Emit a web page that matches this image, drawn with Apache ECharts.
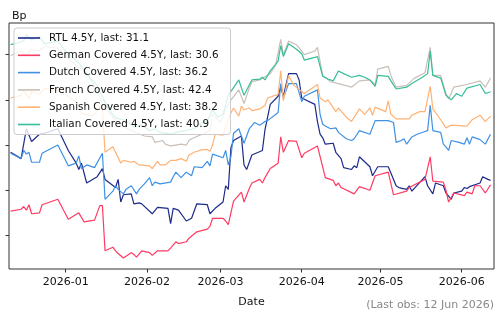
<!DOCTYPE html>
<html><head><meta charset="utf-8">
<script src="https://cdn.jsdelivr.net/npm/echarts@6/dist/echarts.min.js"></script>
<style>html,body{margin:0;padding:0;background:#fff}#c{width:495px;height:313px}</style>
</head><body><div id="c"></div>
<script>
const seriesNames = ['RTL 4.5Y, last: 31.1','German Covered 4.5Y, last: 30.6','Dutch Covered 4.5Y, last: 36.2','French Covered 4.5Y, last: 42.4','Spanish Covered 4.5Y, last: 38.2','Italian Covered 4.5Y, last: 40.9'];
const seriesColors = ['#1c2a8c','#ff3b62','#3f91e4','#c9bfb6','#ffb274','#35bd9a'];
const monthTicks = ['2026-01','2026-02','2026-03','2026-04','2026-05','2026-06'];
const yTicks = [25,30,35,40,45];

const rtl = [['2025-12-11',34.2],['2025-12-15',33.5],['2025-12-17',36.8],['2025-12-19',35.4],['2025-12-22',36.2],['2025-12-24',36.3],['2025-12-29',36.8],['2026-01-02',34.4],['2026-01-05',33.0],['2026-01-06',32.3],['2026-01-07',33.0],['2026-01-09',30.8],['2026-01-13',31.5],['2026-01-15',32.4],['2026-01-16',31.2],['2026-01-20',30.3],['2026-01-21',31.2],['2026-01-22',28.7],['2026-01-23',29.5],['2026-01-26',29.6],['2026-01-27',28.5],['2026-01-29',28.6],['2026-01-30',28.5],['2026-02-03',27.4],['2026-02-05',28.1],['2026-02-09',28.0],['2026-02-10',26.3],['2026-02-11',28.0],['2026-02-13',27.8],['2026-02-16',26.6],['2026-02-18',26.9],['2026-02-20',28.5],['2026-02-24',28.4],['2026-02-25',27.4],['2026-02-27',28.0],['2026-03-02',28.7],['2026-03-03',30.5],['2026-03-04',30.1],['2026-03-05',34.7],['2026-03-06',35.5],['2026-03-09',36.0],['2026-03-10',32.8],['2026-03-11',32.3],['2026-03-13',33.9],['2026-03-17',34.4],['2026-03-18',36.7],['2026-03-20',39.5],['2026-03-23',40.4],['2026-03-24',41.5],['2026-03-25',40.4],['2026-03-27',42.9],['2026-03-30',42.9],['2026-03-31',42.2],['2026-04-01',40.2],['2026-04-06',39.5],['2026-04-07',37.6],['2026-04-08',36.2],['2026-04-09',35.8],['2026-04-10',35.1],['2026-04-13',35.2],['2026-04-14',34.2],['2026-04-16',33.5],['2026-04-17',32.5],['2026-04-20',32.3],['2026-04-21',32.7],['2026-04-22',32.5],['2026-04-23',33.7],['2026-04-27',32.6],['2026-04-28',31.6],['2026-04-30',32.6],['2026-05-04',32.6],['2026-05-05',31.9],['2026-05-07',30.5],['2026-05-08',30.3],['2026-05-11',30.1],['2026-05-12',30.5],['2026-05-13',29.9],['2026-05-18',31.5],['2026-05-19',30.5],['2026-05-21',29.6],['2026-05-22',30.8],['2026-05-25',30.5],['2026-05-26',29.7],['2026-05-28',29.0],['2026-05-29',29.7],['2026-06-01',29.9],['2026-06-02',30.3],['2026-06-03',30.2],['2026-06-04',30.4],['2026-06-08',30.8],['2026-06-09',31.5],['2026-06-11',31.2],['2026-06-12',31.1]];

const german = [['2025-12-11',27.7],['2025-12-15',27.9],['2025-12-16',28.2],['2025-12-17',27.8],['2025-12-18',28.4],['2025-12-19',27.4],['2025-12-22',27.5],['2025-12-23',28.4],['2025-12-29',29.0],['2026-01-02',26.8],['2026-01-06',27.5],['2026-01-08',26.5],['2026-01-12',26.7],['2026-01-14',28.3],['2026-01-15',28.3],['2026-01-16',23.3],['2026-01-19',23.7],['2026-01-20',23.3],['2026-01-21',23.0],['2026-01-23',22.5],['2026-01-26',23.1],['2026-01-27',22.9],['2026-01-28',22.6],['2026-01-30',23.3],['2026-02-02',23.1],['2026-02-03',22.8],['2026-02-05',23.3],['2026-02-06',23.3],['2026-02-09',23.3],['2026-02-10',23.6],['2026-02-12',24.3],['2026-02-13',24.1],['2026-02-16',24.3],['2026-02-17',24.7],['2026-02-20',25.4],['2026-02-24',25.7],['2026-02-25',26.0],['2026-02-26',26.9],['2026-03-02',26.9],['2026-03-03',26.6],['2026-03-04',26.2],['2026-03-06',28.8],['2026-03-09',29.8],['2026-03-10',28.7],['2026-03-12',30.2],['2026-03-13',30.8],['2026-03-16',31.2],['2026-03-17',30.8],['2026-03-18',31.4],['2026-03-20',32.4],['2026-03-23',33.0],['2026-03-24',35.9],['2026-03-25',34.2],['2026-03-27',35.5],['2026-03-30',35.4],['2026-04-01',33.6],['2026-04-02',34.1],['2026-04-07',34.9],['2026-04-10',31.4],['2026-04-13',31.1],['2026-04-14',30.5],['2026-04-15',30.8],['2026-04-16',30.3],['2026-04-21',29.6],['2026-04-23',30.4],['2026-04-27',30.0],['2026-04-29',31.6],['2026-05-04',32.0],['2026-05-06',29.5],['2026-05-11',29.9],['2026-05-12',30.3],['2026-05-18',31.2],['2026-05-20',33.7],['2026-05-21',31.0],['2026-05-25',30.9],['2026-05-26',30.0],['2026-05-27',28.7],['2026-05-29',29.7],['2026-06-02',29.4],['2026-06-03',29.8],['2026-06-05',29.6],['2026-06-06',30.5],['2026-06-08',30.5],['2026-06-10',29.7],['2026-06-12',30.6]];

const dutch = [['2025-12-11',34.1],['2025-12-15',33.5],['2025-12-16',34.4],['2025-12-17',34.0],['2025-12-18',34.2],['2025-12-19',33.1],['2025-12-22',33.1],['2025-12-23',34.1],['2025-12-29',35.0],['2026-01-02',32.7],['2026-01-05',33.0],['2026-01-06',33.8],['2026-01-07',32.4],['2026-01-09',32.8],['2026-01-12',32.5],['2026-01-15',34.1],['2026-01-16',29.0],['2026-01-19',29.9],['2026-01-20',30.5],['2026-01-21',30.1],['2026-01-23',29.6],['2026-01-24',30.1],['2026-01-26',30.5],['2026-01-28',29.6],['2026-01-29',30.1],['2026-01-31',30.7],['2026-02-02',31.4],['2026-02-03',30.5],['2026-02-04',30.9],['2026-02-06',30.7],['2026-02-10',30.9],['2026-02-11',31.5],['2026-02-12',32.0],['2026-02-14',31.4],['2026-02-16',32.0],['2026-02-18',31.6],['2026-02-19',32.6],['2026-02-22',32.5],['2026-02-24',33.2],['2026-02-25',32.7],['2026-02-26',34.0],['2026-03-02',33.6],['2026-03-03',34.4],['2026-03-04',32.8],['2026-03-05',33.7],['2026-03-06',36.3],['2026-03-08',36.8],['2026-03-10',35.2],['2026-03-12',36.8],['2026-03-14',37.5],['2026-03-16',37.2],['2026-03-18',37.6],['2026-03-19',37.7],['2026-03-23',38.6],['2026-03-24',41.8],['2026-03-25',40.2],['2026-03-27',41.8],['2026-03-30',41.8],['2026-04-01',39.8],['2026-04-02',40.4],['2026-04-07',41.1],['2026-04-08',38.4],['2026-04-09',37.3],['2026-04-10',37.1],['2026-04-12',36.8],['2026-04-14',36.9],['2026-04-15',36.4],['2026-04-18',35.7],['2026-04-20',35.5],['2026-04-21',35.7],['2026-04-23',36.6],['2026-04-27',36.2],['2026-04-29',37.7],['2026-05-04',37.7],['2026-05-06',37.5],['2026-05-07',35.3],['2026-05-09',35.5],['2026-05-10',35.7],['2026-05-11',35.1],['2026-05-13',35.9],['2026-05-15',36.2],['2026-05-18',36.5],['2026-05-19',36.6],['2026-05-20',39.4],['2026-05-21',36.6],['2026-05-24',36.4],['2026-05-25',35.1],['2026-05-26',34.8],['2026-05-27',34.4],['2026-05-28',35.5],['2026-05-31',35.3],['2026-06-02',35.1],['2026-06-03',35.8],['2026-06-04',35.1],['2026-06-05',35.9],['2026-06-08',35.6],['2026-06-10',35.1],['2026-06-12',36.2]];

const french = [['2025-12-11',44.9],['2025-12-15',45.4],['2025-12-17',44.9],['2025-12-19',45.6],['2025-12-22',45.4],['2025-12-24',45.9],['2025-12-29',45.7],['2026-01-02',44.6],['2026-01-05',43.8],['2026-01-08',43.2],['2026-01-12',41.6],['2026-01-15',39.5],['2026-01-20',37.7],['2026-01-24',36.9],['2026-01-31',36.0],['2026-02-03',35.9],['2026-02-04',35.3],['2026-02-07',35.5],['2026-02-08',35.1],['2026-02-10',34.9],['2026-02-12',35.0],['2026-02-14',35.1],['2026-02-16',35.0],['2026-02-17',35.5],['2026-02-18',35.7],['2026-02-22',36.2],['2026-02-25',36.6],['2026-02-26',38.4],['2026-03-01',37.5],['2026-03-04',39.6],['2026-03-08',41.1],['2026-03-10',39.6],['2026-03-12',41.3],['2026-03-13',42.0],['2026-03-16',42.2],['2026-03-20',42.9],['2026-03-22',43.8],['2026-03-24',46.7],['2026-03-25',45.0],['2026-03-27',46.5],['2026-03-30',46.1],['2026-04-01',45.4],['2026-04-02',45.0],['2026-04-06',45.4],['2026-04-07',45.8],['2026-04-09',42.7],['2026-04-12',42.0],['2026-04-15',41.8],['2026-04-20',41.4],['2026-04-23',42.1],['2026-04-27',42.2],['2026-04-29',41.7],['2026-04-30',43.4],['2026-05-04',43.7],['2026-05-05',42.7],['2026-05-06',42.0],['2026-05-07',41.4],['2026-05-11',41.6],['2026-05-14',42.4],['2026-05-18',43.0],['2026-05-20',45.8],['2026-05-21',42.7],['2026-05-24',42.7],['2026-05-26',40.7],['2026-05-27',40.1],['2026-05-29',41.4],['2026-06-03',41.7],['2026-06-08',42.1],['2026-06-10',41.4],['2026-06-12',42.4]];

const spanish = [['2025-12-11',40.2],['2025-12-15',40.5],['2025-12-16',41.0],['2025-12-18',40.2],['2025-12-19',40.9],['2025-12-22',40.6],['2025-12-24',41.3],['2025-12-29',41.0],['2026-01-02',40.4],['2026-01-06',39.5],['2026-01-07',38.5],['2026-01-11',38.2],['2026-01-13',38.7],['2026-01-14',39.3],['2026-01-15',39.1],['2026-01-16',34.2],['2026-01-19',34.8],['2026-01-22',33.0],['2026-01-23',33.3],['2026-01-26',33.1],['2026-01-27',33.2],['2026-01-29',32.8],['2026-02-02',32.7],['2026-02-03',32.4],['2026-02-05',33.2],['2026-02-06',32.8],['2026-02-08',32.8],['2026-02-10',33.3],['2026-02-12',33.3],['2026-02-14',33.5],['2026-02-16',33.2],['2026-02-17',33.9],['2026-02-19',34.2],['2026-02-22',34.5],['2026-02-24',34.5],['2026-02-25',34.3],['2026-02-26',35.0],['2026-02-27',36.2],['2026-03-02',36.1],['2026-03-04',38.0],['2026-03-06',39.1],['2026-03-08',38.2],['2026-03-09',39.3],['2026-03-10',38.9],['2026-03-12',39.1],['2026-03-13',38.8],['2026-03-16',39.0],['2026-03-18',39.4],['2026-03-19',40.2],['2026-03-23',40.6],['2026-03-24',43.2],['2026-03-25',39.9],['2026-03-27',42.7],['2026-03-29',41.6],['2026-04-02',40.7],['2026-04-07',41.7],['2026-04-08',40.2],['2026-04-10',39.8],['2026-04-11',40.0],['2026-04-14',38.7],['2026-04-15',39.1],['2026-04-18',38.1],['2026-04-20',37.6],['2026-04-23',39.0],['2026-04-25',38.4],['2026-04-27',39.1],['2026-04-28',38.3],['2026-04-29',39.2],['2026-05-03',38.7],['2026-05-04',39.9],['2026-05-05',38.4],['2026-05-07',37.9],['2026-05-12',37.9],['2026-05-13',38.3],['2026-05-16',38.7],['2026-05-18',38.7],['2026-05-20',41.5],['2026-05-21',39.0],['2026-05-24',37.8],['2026-05-26',36.9],['2026-05-28',37.2],['2026-06-03',37.1],['2026-06-05',37.8],['2026-06-08',38.3],['2026-06-10',37.6],['2026-06-12',38.2]];

const italian = [['2025-12-11',46.1],['2025-12-15',46.4],['2025-12-16',46.6],['2025-12-17',47.2],['2025-12-19',46.6],['2025-12-22',47.0],['2025-12-24',46.2],['2025-12-29',46.5],['2026-01-02',45.0],['2026-01-06',44.1],['2026-01-10',42.5],['2026-01-13',41.6],['2026-01-17',39.1],['2026-01-20',38.0],['2026-01-24',37.7],['2026-01-27',37.0],['2026-01-30',37.2],['2026-02-02',36.6],['2026-02-04',36.8],['2026-02-06',36.4],['2026-02-10',36.2],['2026-02-12',36.4],['2026-02-19',36.8],['2026-02-21',37.3],['2026-02-24',37.7],['2026-02-26',38.9],['2026-02-28',38.1],['2026-03-02',38.4],['2026-03-04',40.5],['2026-03-08',42.2],['2026-03-10',40.5],['2026-03-13',42.2],['2026-03-16',42.3],['2026-03-17',42.5],['2026-03-18',42.2],['2026-03-20',43.2],['2026-03-22',43.9],['2026-03-23',44.3],['2026-03-24',46.0],['2026-03-25',44.8],['2026-03-27',46.2],['2026-03-30',45.6],['2026-04-01',45.1],['2026-04-02',44.4],['2026-04-06',44.7],['2026-04-07',44.8],['2026-04-09',42.6],['2026-04-11',42.3],['2026-04-13',42.1],['2026-04-15',43.2],['2026-04-17',42.9],['2026-04-20',42.5],['2026-04-23',42.7],['2026-04-25',42.5],['2026-04-27',42.2],['2026-04-29',41.5],['2026-04-30',42.7],['2026-05-04',42.6],['2026-05-05',42.1],['2026-05-07',41.2],['2026-05-11',41.4],['2026-05-13',41.8],['2026-05-17',42.5],['2026-05-19',42.9],['2026-05-20',45.4],['2026-05-21',42.7],['2026-05-24',42.4],['2026-05-26',40.5],['2026-05-28',40.0],['2026-05-30',40.7],['2026-06-01',40.4],['2026-06-03',41.3],['2026-06-08',41.7],['2026-06-10',40.7],['2026-06-12',40.9]];

const allSeries = [rtl, german, dutch, french, spanish, italian];

function ts(s){ const p = s.split('-').map(Number); return Date.UTC(p[0], p[1]-1, p[2] || 1); }
const DAY = 864e5;
const jan1 = Date.UTC(2026,0,1);
const xMin = jan1 - 21.62*DAY, xMax = jan1 + 163.32*DAY;
const tickTs = monthTicks.map(ts);
const FONT = 'DejaVu Sans';
function fmtMonth(v){ const d=new Date(v); return d.getUTCFullYear()+'-'+String(d.getUTCMonth()+1).padStart(2,'0'); }

const chart = echarts.init(document.getElementById('c'), null, {renderer:'canvas'});
chart.setOption({
  animation:false,
  backgroundColor:'#fff',
  textStyle:{fontFamily:FONT},
  grid:{left:9, right:1, top:23, bottom:38, show:true, borderColor:'#333', borderWidth:1, backgroundColor:'transparent'},
  title:{text:'Bp', left:7, top:6, textStyle:{fontFamily:FONT, fontSize:11, fontWeight:'normal', color:'#111'}},
  legend:{
    orient:'vertical', left:14, top:28, icon:'rect',
    padding:[3,12,3,4], itemWidth:22, itemHeight:1.6, itemGap:3.3,
    backgroundColor:'rgba(255,255,255,0.8)', borderColor:'#cccccc', borderWidth:1, borderRadius:3,
    textStyle:{fontFamily:FONT, fontSize:10.4, color:'#111', lineHeight:14, padding:[0,0,0,4]},
    data:seriesNames
  },
  xAxis:{
    type:'value', min:xMin, max:xMax,
    name:'Date', nameLocation:'middle', nameGap:28,
    nameTextStyle:{fontFamily:FONT, fontSize:11, color:'#111'},
    axisLine:{show:false},
    axisTick:{show:true, length:3.5, customValues:tickTs, lineStyle:{color:'#333'}},
    axisLabel:{show:true, customValues:tickTs, margin:8, fontFamily:FONT, fontSize:11, color:'#111', formatter:fmtMonth},
    splitLine:{show:false}
  },
  yAxis:{
    type:'value', min:21.29, max:48.5,
    axisLine:{show:false},
    axisTick:{show:true, length:3.5, customValues:yTicks, lineStyle:{color:'#333'}},
    axisLabel:{show:false},
    splitLine:{show:false}
  },
  graphic:[{type:'text', right:1, top:300, style:{text:'(Last obs: 12 Jun 2026)', fontFamily:FONT, fontSize:11, fill:'#888'}}],
  series: allSeries.map((arr,i)=>({
    name:seriesNames[i], type:'line', symbol:'none', showSymbol:false,
    color:seriesColors[i],
    lineStyle:{width:1.2, color:seriesColors[i]},
    data: arr.map(d=>[ts(d[0]), d[1]])
  }))
});
</script></body></html>
